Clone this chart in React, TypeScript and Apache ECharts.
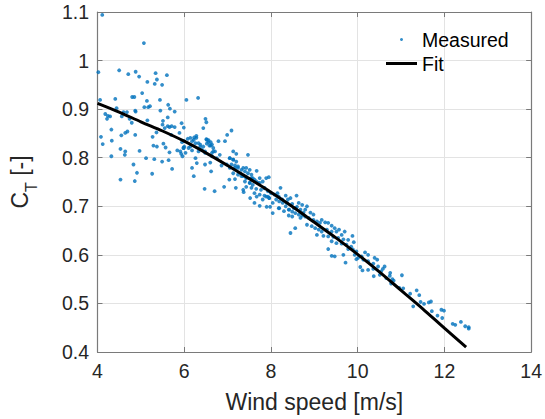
import React, { useEffect, useRef } from "react";
import * as echarts from "echarts";

// Measured points [wind speed, C_T]
const measuredLeft: number[][] = [
  [4.11, 1.094], [5.07, 1.036], [4.02, 0.976], [4.5, 0.98], [4.71, 0.972], [4.88, 0.977], [4.96, 0.967],
  [5.34, 0.974], [5.6, 0.97], [5.37, 0.961], [5.15, 0.956], [5.32, 0.952], [5.49, 0.95], [5.03, 0.933],
  [4.8, 0.925], [4.85, 0.925], [5.14, 0.917], [5.44, 0.919], [4.41, 0.921], [4.06, 0.919], [5.63, 0.909],
  [6.05, 0.919], [5.08, 0.904], [5.17, 0.904], [5.21, 0.906], [5.67, 0.901], [4.44, 0.902], [5.78, 0.895],
  [5.45, 0.897], [4.87, 0.897], [4.88, 0.895], [4.6, 0.894], [4.68, 0.894], [4.18, 0.89], [4.24, 0.886],
  [4.29, 0.885], [4.56, 0.885], [4.22, 0.88], [4.74, 0.88], [5.62, 0.883], [5.15, 0.877], [4.79, 0.872],
  [5.51, 0.876], [5.5, 0.868], [5.62, 0.865], [5.66, 0.863], [5.71, 0.865], [5.78, 0.863], [5.55, 0.861],
  [5.94, 0.871], [5.99, 0.862], [4.32, 0.858], [4.69, 0.854], [4.64, 0.851], [5.36, 0.852], [4.08, 0.843],
  [4.55, 0.846], [4.87, 0.847], [5.27, 0.843], [5.7, 0.847], [5.89, 0.851], [4.33, 0.835], [4.12, 0.828],
  [5.52, 0.829], [5.95, 0.832], [5.29, 0.825], [5.37, 0.823], [5.57, 0.821], [5.84, 0.815], [5.91, 0.813],
  [5.99, 0.82], [6.0, 0.823], [4.53, 0.818], [4.97, 0.814], [5.66, 0.811], [4.64, 0.813], [4.63, 0.806],
  [5.93, 0.808], [5.96, 0.803], [4.32, 0.803], [5.12, 0.799], [5.31, 0.797], [5.49, 0.792], [5.64, 0.795],
  [4.83, 0.786], [5.72, 0.777], [4.91, 0.769], [5.26, 0.767], [4.53, 0.755], [4.86, 0.752],
];
const measuredMid: number[][] = [
  [6.32, 0.923], [6.49, 0.88], [6.51, 0.873], [6.44, 0.861], [7.09, 0.856], [6.99, 0.847], [6.28, 0.841],
  [6.22, 0.837], [6.14, 0.841], [6.08, 0.839], [6.52, 0.837], [6.56, 0.832], [6.79, 0.834], [6.94, 0.834],
  [6.26, 0.83], [6.37, 0.827], [6.44, 0.823], [6.61, 0.825], [6.67, 0.82], [6.1, 0.82], [6.18, 0.815],
  [6.33, 0.813], [6.48, 0.813], [6.64, 0.81], [6.71, 0.813], [7.13, 0.813], [7.2, 0.808], [7.47, 0.806],
  [6.82, 0.806], [6.26, 0.799], [6.75, 0.799], [7.05, 0.799], [7.13, 0.796], [6.29, 0.789], [6.48, 0.786],
  [6.6, 0.79], [6.86, 0.784], [6.98, 0.786], [7.05, 0.779], [7.17, 0.784], [7.24, 0.779], [7.36, 0.779],
  [7.43, 0.779], [7.51, 0.775], [7.67, 0.773], [6.18, 0.779], [6.62, 0.772], [6.22, 0.762], [7.13, 0.768],
  [7.24, 0.765], [7.32, 0.762], [7.43, 0.76], [7.55, 0.758], [7.62, 0.755], [7.74, 0.758], [7.04, 0.755],
  [7.17, 0.756], [7.4, 0.751], [7.51, 0.748], [7.58, 0.744], [7.7, 0.748], [7.81, 0.751], [7.89, 0.758],
  [7.95, 0.76], [6.92, 0.74], [7.19, 0.738], [7.36, 0.734], [7.43, 0.74], [7.55, 0.738], [7.66, 0.736],
  [7.77, 0.734], [7.85, 0.738], [6.47, 0.736], [6.7, 0.731], [7.37, 0.729], [7.62, 0.727], [7.74, 0.724],
  [7.85, 0.722], [7.93, 0.72], [7.96, 0.717], [7.67, 0.72], [7.52, 0.717], [7.81, 0.714], [7.62, 0.707],
  [7.74, 0.701], [7.9, 0.699], [7.98, 0.699], [8.04, 0.686],
];
const measuredBand: number[][] = [
  [6.51, 0.838], [6.56, 0.836], [6.61, 0.832], [6.52, 0.829], [6.58, 0.825], [6.64, 0.827], [6.23, 0.842],
  [6.28, 0.845], [6.18, 0.834], [6.33, 0.83], [6.37, 0.823], [6.14, 0.823], [6.0, 0.834], [5.98, 0.82],
  [6.03, 0.81], [6.41, 0.816], [6.48, 0.81], [6.67, 0.813], [6.64, 0.803], [7.05, 0.799], [7.13, 0.796],
  [7.2, 0.792], [7.09, 0.786], [7.24, 0.782], [7.17, 0.779], [7.32, 0.775], [7.4, 0.772], [7.47, 0.768],
  [7.55, 0.765], [7.36, 0.762], [7.43, 0.758], [7.58, 0.758], [7.66, 0.751], [7.51, 0.748], [7.74, 0.748],
  [7.85, 0.737], [7.93, 0.731], [8.0, 0.727], [8.08, 0.724], [7.89, 0.72], [7.96, 0.717], [8.12, 0.714],
  [8.19, 0.71], [8.04, 0.707], [8.27, 0.707], [8.34, 0.7], [8.19, 0.696], [8.42, 0.693], [8.49, 0.689],
  [8.57, 0.696], [8.72, 0.703], [8.83, 0.7], [8.75, 0.687], [8.98, 0.683], [9.17, 0.672], [9.4, 0.66],
  [9.47, 0.655], [9.63, 0.641], [9.78, 0.631], [9.85, 0.617], [9.93, 0.6],
];
const measuredRight: number[][] = [
  [8.22, 0.738], [8.15, 0.727], [8.18, 0.72], [8.34, 0.722], [8.26, 0.714], [8.39, 0.714], [8.45, 0.717],
  [8.59, 0.722], [8.37, 0.707], [8.49, 0.705], [8.64, 0.707], [8.18, 0.696], [8.3, 0.69], [8.41, 0.693],
  [8.53, 0.696], [8.6, 0.699], [8.68, 0.693], [8.79, 0.693], [8.91, 0.687], [8.56, 0.686], [8.64, 0.683],
  [8.72, 0.681], [8.49, 0.679], [8.41, 0.681], [8.68, 0.676], [8.79, 0.679], [8.87, 0.676], [8.98, 0.672],
  [9.06, 0.669], [9.13, 0.666], [9.25, 0.667], [9.32, 0.666], [8.83, 0.662], [8.94, 0.659], [8.56, 0.655],
  [8.45, 0.645], [9.02, 0.655], [9.1, 0.652], [9.17, 0.648], [9.29, 0.652], [9.4, 0.648], [9.51, 0.648],
  [9.57, 0.652], [9.7, 0.648], [9.06, 0.641], [9.21, 0.639], [9.32, 0.638], [9.44, 0.637], [9.55, 0.635],
  [9.67, 0.632], [9.88, 0.639], [9.4, 0.628], [9.51, 0.624], [9.63, 0.623], [9.74, 0.621], [9.91, 0.626],
  [9.32, 0.612], [9.78, 0.612], [9.89, 0.611], [9.97, 0.607], [9.4, 0.598], [9.47, 0.597], [9.67, 0.6],
  [9.72, 0.584], [10.01, 0.594], [10.06, 0.575], [9.97, 0.591],
];
const measuredHigh: number[][] = [
  [10.17, 0.605], [10.24, 0.6], [10.09, 0.597], [10.13, 0.59], [10.39, 0.594], [10.45, 0.59], [10.24, 0.587],
  [10.36, 0.582], [10.47, 0.576], [10.62, 0.576], [10.58, 0.571], [10.24, 0.569], [10.36, 0.571], [10.11, 0.568],
  [10.54, 0.566], [10.75, 0.563], [10.51, 0.559], [10.37, 0.556], [10.74, 0.557], [11.02, 0.558], [10.66, 0.552],
  [10.8, 0.55], [10.83, 0.547], [10.77, 0.541], [10.96, 0.532], [11.05, 0.531], [11.21, 0.52], [11.36, 0.527],
  [11.42, 0.517], [11.45, 0.503], [11.53, 0.499], [11.64, 0.502], [11.69, 0.504], [11.28, 0.494], [11.71, 0.484],
  [11.93, 0.487], [11.99, 0.485], [11.84, 0.475], [11.95, 0.47], [12.19, 0.458], [12.25, 0.456], [12.38, 0.462],
  [12.48, 0.453], [12.56, 0.451], [12.56, 0.448],
];

// Fit curve
const fitX: number[] = [4, 4.5, 5, 5.5, 6, 6.5, 7, 7.5, 8, 8.5, 9, 9.5, 10, 10.5, 11, 11.5, 12, 12.5];
const fitY: number[] = [0.912, 0.894, 0.874, 0.855, 0.834, 0.81, 0.784, 0.757, 0.729, 0.699, 0.667, 0.635, 0.601, 0.565, 0.527, 0.489, 0.449, 0.41];

const xTicks = { min: 4, max: 14, interval: 2 };
const yTicks = { min: 0.4, max: 1.1, interval: 0.1 };

const FONT = "Liberation Sans";
const AX = "#262626";

export default function App() {
  const ref = useRef<HTMLDivElement>(null);
  useEffect(() => {
    if (!ref.current) return;
    const chart = echarts.init(ref.current, null, { renderer: "svg" });
    const measured = [...measuredLeft, ...measuredMid, ...measuredBand, ...measuredRight, ...measuredHigh];
    const fit = fitX.map((x, i) => [x, fitY[i]]);
    const axisLine = { show: true, lineStyle: { color: "#7a7a7a", width: 1.2 } };
    const tick = { show: true, inside: true, length: 5, lineStyle: { color: "#7a7a7a", width: 1 } };
    chart.setOption({
      animation: false,
      backgroundColor: "#ffffff",
      textStyle: { fontFamily: FONT },
      grid: { left: 96, right: 10, top: 12, bottom: 67, containLabel: false },
      legend: {
        orient: "vertical",
        left: 386,
        top: 29.5,
        padding: 0,
        itemWidth: 31,
        itemHeight: 3,
        itemGap: 4,
        textStyle: { fontSize: 19.5, lineHeight: 20, color: "#000", fontFamily: FONT },
        data: [
          { name: "Measured", icon: "circle", itemStyle: { color: "#0072BD" } },
          { name: "Fit", icon: "rect", itemStyle: { color: "#000" } },
        ],
      },
      xAxis: [
        {
          type: "value",
          min: xTicks.min,
          max: xTicks.max,
          interval: xTicks.interval,
          name: "Wind speed [m/s]",
          nameLocation: "middle",
          nameGap: 38.5,
          nameTextStyle: { fontSize: 23, color: AX, fontFamily: FONT },
          axisLine,
          axisTick: tick,
          axisLabel: { fontSize: 19.5, color: AX, margin: 9, fontFamily: FONT },
          splitLine: { show: true, lineStyle: { color: "#e3e3e3", width: 1 } },
        },
        {
          type: "value",
          position: "top",
          min: xTicks.min,
          max: xTicks.max,
          interval: xTicks.interval,
          axisLine,
          axisTick: tick,
          axisLabel: { show: false },
          splitLine: { show: false },
        },
      ],
      yAxis: [
        {
          type: "value",
          min: yTicks.min,
          max: yTicks.max,
          interval: yTicks.interval,
          name: "{a|C}{b|T}{a| [-]}",
          nameLocation: "middle",
          nameGap: 58,
          nameTextStyle: {
            color: AX,
            fontFamily: FONT,
            rich: {
              a: { fontSize: 23, color: AX, fontFamily: FONT, lineHeight: 40, verticalAlign: "middle" },
              b: { fontSize: 16, color: AX, fontFamily: FONT, lineHeight: 16, verticalAlign: "bottom" },
            },
          },
          axisLine,
          axisTick: tick,
          axisLabel: { fontSize: 19.5, color: AX, margin: 8.5, fontFamily: FONT },
          splitLine: { show: true, lineStyle: { color: "#e3e3e3", width: 1 } },
        },
        {
          type: "value",
          position: "right",
          min: yTicks.min,
          max: yTicks.max,
          interval: yTicks.interval,
          axisLine,
          axisTick: tick,
          axisLabel: { show: false },
          splitLine: { show: false },
        },
      ],
      series: [
        {
          name: "Measured",
          type: "scatter",
          data: measured,
          symbol: "circle",
          symbolSize: 3.8,
          itemStyle: { color: "#0072BD" },
          z: 2,
        },
        {
          name: "Fit",
          type: "line",
          data: fit,
          showSymbol: false,
          smooth: 0.3,
          lineStyle: { color: "#000", width: 3 },
          itemStyle: { color: "#000" },
          z: 3,
        },
      ],
    });
    return () => chart.dispose();
  }, []);
  return (
    <div
      ref={ref}
      style={{ position: "absolute", left: 0, top: 0, width: 545, height: 419 }}
    />
  );
}
